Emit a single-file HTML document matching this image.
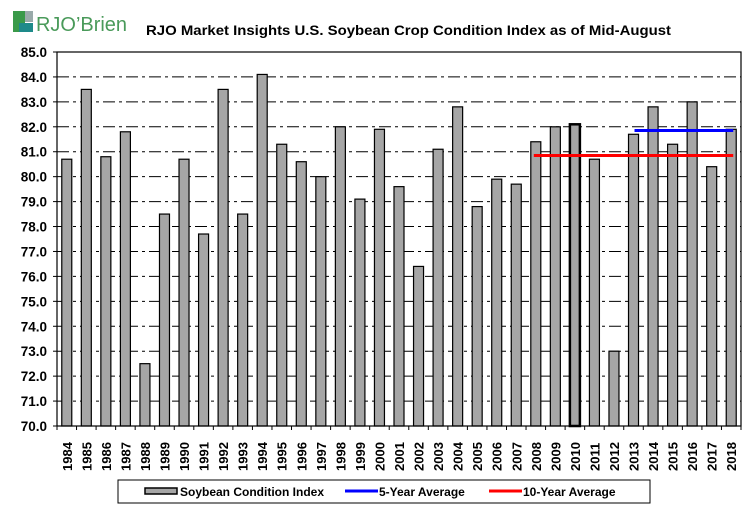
<!DOCTYPE html>
<html><head><meta charset="utf-8"><style>
body{margin:0;background:#fff;font-family:"Liberation Sans",Arial,sans-serif}
svg text{font-family:"Liberation Sans",Arial,sans-serif}
</style></head><body>
<svg id="c" width="756" height="516" xmlns="http://www.w3.org/2000/svg">
<rect x="0" y="0" width="756" height="516" fill="#fff"/>
<g>
<rect x="13" y="11" width="12" height="21" fill="#3a9a4a"/>
<rect x="25" y="11" width="8" height="11" fill="#9aa"/>
<rect x="19" y="23" width="14" height="9" fill="#1e8a8a"/>
<text x="36" y="31" font-size="20" fill="#4a9a5a" font-family="Liberation Serif,serif" textLength="91" lengthAdjust="spacingAndGlyphs">RJO’Brien</text>
</g>
<text x="146" y="35" font-size="13.5" font-weight="bold" fill="#000" textLength="525" lengthAdjust="spacingAndGlyphs">RJO Market Insights U.S. Soybean Crop Condition Index as of Mid-August</text>
<g id="grid"></g><g id="bars"></g><g id="lines"></g><g id="axes"></g>
<g>
<rect x="118" y="480" width="532" height="23" fill="#fff" stroke="#000"/>
<rect x="145" y="488" width="32" height="6" fill="#a6a6a6" stroke="#000" stroke-width="1.5"/>
<text x="180" y="496" font-size="12" font-weight="bold">Soybean Condition Index</text>
<line x1="345" y1="491" x2="378" y2="491" stroke="#0000ff" stroke-width="3"/>
<text x="379" y="496" font-size="12" font-weight="bold">5-Year Average</text>
<line x1="489" y1="491" x2="522" y2="491" stroke="#ff0000" stroke-width="3"/>
<text x="523" y="496" font-size="12" font-weight="bold">10-Year Average</text>
</g>
</svg>
<script>
const years=[1984,1985,1986,1987,1988,1989,1990,1991,1992,1993,1994,1995,1996,1997,1998,1999,2000,2001,2002,2003,2004,2005,2006,2007,2008,2009,2010,2011,2012,2013,2014,2015,2016,2017,2018];
const values=[80.7,83.5,80.8,81.8,72.5,78.5,80.7,77.7,83.5,78.5,84.1,81.3,80.6,80.0,82.0,79.1,81.9,79.6,76.4,81.1,82.8,78.8,79.9,79.7,81.4,82.0,82.1,80.7,73.0,81.7,82.8,81.3,83.0,80.4,81.9];
const yTicks=[70,71,72,73,74,75,76,77,78,79,80,81,82,83,84,85];
const avg5=81.85, avg10=80.85;
const L=57,R=741,T=52,B=426,ymin=70,ymax=85;
const NS="http://www.w3.org/2000/svg";
const cw=(R-L)/years.length;
const y=v=>B-(v-ymin)/(ymax-ymin)*(B-T);
const x=i=>L+cw*(i+0.5);
function mk(t,a,p){const e=document.createElementNS(NS,t);for(const k in a)e.setAttribute(k,a[k]);p.appendChild(e);return e;}
const g=document.getElementById('grid'),b=document.getElementById('bars'),ln=document.getElementById('lines'),ax=document.getElementById('axes');
yTicks.forEach(v=>{
 if(v>ymin&&v<ymax){const l=mk('line',{x1:L,x2:R,y1:y(v),y2:y(v),stroke:'#000','stroke-dasharray':'12,4,3,4'},g);
 
 }
 mk('line',{x1:L-4,x2:L,y1:y(v),y2:y(v),stroke:'#000'},ax);
 const t=mk('text',{x:L-10,y:y(v)+5,'text-anchor':'end','font-size':'13.5','font-weight':'bold'},ax);
 t.textContent=v.toFixed(1);
 
 
});
values.forEach((v,i)=>{
 const r=mk('rect',{x:x(i)-5,y:y(v),width:10,height:B-y(v),fill:'#a6a6a6',stroke:'#000','stroke-width':years[i]===2010?2.5:1.2},b);
 
 
 const t=mk('text',{transform:`translate(${x(i)+5},${B+45}) rotate(-90)`,'font-size':'13','font-weight':'bold'},ax);
 t.textContent=years[i];
 
 
});
for(let i=0;i<=years.length;i++)mk('line',{x1:L+cw*i,x2:L+cw*i,y1:B,y2:B+4,stroke:'#000'},ax);
const i13=years.indexOf(2013),i08=years.indexOf(2008),iEnd=years.length-1;
const l10=mk('line',{x1:x(i08)-2,x2:x(iEnd)+2,y1:y(avg10),y2:y(avg10),stroke:'#ff0000','stroke-width':3},ln);


const l5=mk('line',{x1:x(i13)+1,x2:x(iEnd)+2,y1:y(avg5),y2:y(avg5),stroke:'#0000ff','stroke-width':3},ln);


mk('rect',{x:L,y:T,width:R-L,height:B-T,fill:'none',stroke:'#000','stroke-width':1.2},ax);
</script>
</body></html>
